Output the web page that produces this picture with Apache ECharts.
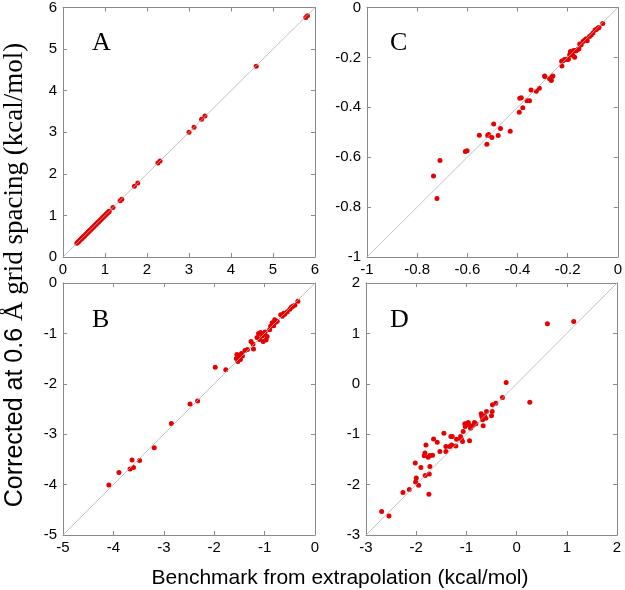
<!DOCTYPE html>
<html>
<head>
<meta charset="utf-8">
<script src="https://cdn.jsdelivr.net/npm/echarts@6/dist/echarts.min.js"></script>
<style>
html,body{margin:0;padding:0;background:#fff;}
#chart{width:625px;height:590px;}
</style>
</head>
<body>
<div id="chart"></div>
<script>
// Panel A (benchmark x, corrected y)
var aX = [0.33,0.35,0.37,0.38,0.40,0.42,0.44,0.45,0.47,0.49,0.50,0.52,0.54,0.56,0.58,0.60,0.62,0.63,0.65,0.67,0.69,0.71,0.73,0.75,0.77,0.79,0.81,0.83,0.85,0.87,0.89,0.91,0.93,0.95,0.97,0.99,1.01,1.03,1.05,1.07,1.09,1.10,1.19,1.36,1.40,1.70,1.78,2.26,2.31,3.00,3.12,3.30,3.38,4.60,5.78,5.82];
var aY = [0.33,0.35,0.37,0.38,0.40,0.42,0.44,0.45,0.47,0.49,0.50,0.52,0.54,0.56,0.58,0.60,0.62,0.63,0.65,0.67,0.69,0.71,0.73,0.75,0.77,0.79,0.81,0.83,0.85,0.87,0.89,0.91,0.93,0.95,0.97,0.99,1.01,1.03,1.05,1.07,1.09,1.10,1.19,1.35,1.39,1.70,1.78,2.26,2.31,3.00,3.12,3.31,3.39,4.59,5.76,5.80];
// Panel B
var bX = [-4.09,-3.89,-3.67,-3.63,-3.60,-3.48,-3.19,-2.85,-2.48,-2.33,-1.98,-1.77,-1.56,-1.55,-1.53,-1.50,-1.48,-1.46,-1.44,-1.39,-1.34,-1.27,-1.23,-1.22,-1.15,-1.12,-1.10,-1.08,-1.05,-1.03,-1.00,-0.99,-0.97,-0.95,-0.90,-0.88,-0.85,-0.82,-0.80,-0.78,-0.75,-0.68,-0.65,-0.62,-0.60,-0.55,-0.50,-0.47,-0.44,-0.40,-0.34];
var bY = [-4.01,-3.76,-3.69,-3.51,-3.66,-3.52,-3.27,-2.79,-2.40,-2.34,-1.67,-1.72,-1.50,-1.42,-1.56,-1.46,-1.52,-1.40,-1.45,-1.34,-1.32,-1.16,-1.21,-1.31,-1.08,-1.00,-1.12,-0.98,-1.05,-1.16,-1.02,-0.97,-1.13,-1.06,-0.93,-0.86,-0.79,-0.85,-0.73,-0.78,-0.76,-0.63,-0.66,-0.60,-0.62,-0.57,-0.52,-0.48,-0.46,-0.44,-0.36];
// Panel C
var cX = [-0.735,-0.709,-0.721,-0.608,-0.601,-0.552,-0.522,-0.519,-0.515,-0.502,-0.495,-0.477,-0.468,-0.429,-0.393,-0.391,-0.385,-0.379,-0.362,-0.352,-0.346,-0.325,-0.313,-0.292,-0.290,-0.272,-0.265,-0.262,-0.259,-0.223,-0.224,-0.219,-0.212,-0.205,-0.199,-0.197,-0.192,-0.189,-0.186,-0.185,-0.179,-0.176,-0.172,-0.168,-0.166,-0.160,-0.155,-0.152,-0.146,-0.139,-0.132,-0.126,-0.122,-0.113,-0.106,-0.099,-0.091,-0.086,-0.079,-0.075,-0.060];
var cY = [-0.675,-0.613,-0.766,-0.577,-0.574,-0.512,-0.548,-0.513,-0.509,-0.521,-0.467,-0.513,-0.485,-0.496,-0.420,-0.364,-0.362,-0.402,-0.374,-0.374,-0.331,-0.336,-0.324,-0.275,-0.278,-0.286,-0.293,-0.277,-0.275,-0.234,-0.215,-0.213,-0.208,-0.207,-0.208,-0.206,-0.189,-0.176,-0.189,-0.185,-0.191,-0.172,-0.199,-0.173,-0.173,-0.168,-0.165,-0.146,-0.149,-0.136,-0.130,-0.125,-0.133,-0.116,-0.110,-0.102,-0.090,-0.088,-0.082,-0.080,-0.064];
// Panel D
var dX = [-2.688,-2.542,-2.264,-2.138,-2.019,-1.999,-2.012,-1.952,-1.906,-1.826,-1.806,-1.840,-1.820,-1.760,-1.727,-1.740,-1.727,-1.747,-1.674,-1.654,-1.581,-1.528,-1.448,-1.408,-1.408,-1.329,-1.309,-1.282,-1.296,-1.210,-1.196,-1.117,-1.098,-1.077,-1.064,-1.031,-1.024,-0.997,-0.964,-0.951,-0.938,-0.918,-0.898,-0.865,-0.839,-0.812,-0.706,-0.692,-0.679,-0.666,-0.639,-0.613,-0.599,-0.500,-0.487,-0.480,-0.414,-0.281,-0.208,0.263,0.614,1.138];
var dY = [-2.536,-2.623,-2.159,-2.099,-1.570,-1.868,-1.947,-2.013,-1.662,-1.371,-1.212,-1.430,-1.821,-1.457,-1.424,-1.788,-1.642,-2.192,-1.417,-1.093,-1.159,-1.344,-0.980,-1.245,-1.344,-1.245,-1.046,-1.046,-1.212,-1.232,-1.099,-1.046,-1.099,-1.146,-0.947,-0.795,-0.848,-0.795,-0.768,-0.815,-1.132,-0.881,-0.848,-0.821,-0.768,-0.795,-0.596,-0.649,-0.715,-0.834,-0.636,-0.682,-0.550,-0.636,-0.550,-0.417,-0.384,-0.272,0.026,-0.364,1.192,1.238];

// Axis ranges [min, max, interval]
var aRange = [0, 6, 1];
var bRange = [-5, 0, 1];
var cRange = [-1, 0, 0.2];
var dRange = [-3, 2, 1];
var panelLetters = ['A', 'B', 'C', 'D'];
var xTitle = 'Benchmark from extrapolation (kcal/mol)';
var yTitleSans = 'Corrected at 0.6 ';
var yTitleSerif = 'Å grid spacing (kcal/mol)';

var panels = [
  {x: aX, y: aY, r: aRange, grid: {left: 63, top: 6, width: 252, height: 251}, lx: 92, ly: 44},
  {x: bX, y: bY, r: bRange, grid: {left: 63, top: 283, width: 252, height: 252}, lx: 92, ly: 321},
  {x: cX, y: cY, r: cRange, grid: {left: 367, top: 6, width: 251, height: 251}, lx: 390, ly: 44},
  {x: dX, y: dY, r: dRange, grid: {left: 366, top: 283, width: 251, height: 252}, lx: 390, ly: 321}
];

var lineCol = '#8a8a8a';
var labelStyle = {color: '#000', fontSize: 15, fontFamily: 'Liberation Sans'};
var grids = [], xAxes = [], yAxes = [], series = [], graphics = [];

panels.forEach(function (p, i) {
  grids.push(p.grid);
  var base = {
    gridIndex: i, type: 'value', min: p.r[0], max: p.r[1], interval: p.r[2],
    splitLine: {show: false},
    axisLine: {show: true, onZero: false, lineStyle: {color: lineCol, width: 1}},
    axisTick: {show: true, inside: true, length: 4, lineStyle: {color: lineCol}}
  };
  xAxes.push(Object.assign({}, base, {position: 'bottom', axisLabel: Object.assign({margin: 5}, labelStyle)}));
  xAxes.push(Object.assign({}, base, {position: 'top', axisLabel: {show: false}}));
  yAxes.push(Object.assign({}, base, {position: 'left', axisLabel: Object.assign({margin: 6}, labelStyle)}));
  yAxes.push(Object.assign({}, base, {position: 'right', axisLabel: {show: false}}));

  series.push({
    type: 'line', xAxisIndex: 2 * i, yAxisIndex: 2 * i, silent: true, symbol: 'none',
    lineStyle: {color: '#b4b4b4', width: 0.8},
    data: [[p.r[0], p.r[0]], [p.r[1], p.r[1]]]
  });
  series.push({
    type: 'scatter', xAxisIndex: 2 * i, yAxisIndex: 2 * i, symbolSize: 5,
    itemStyle: {color: '#e60000', opacity: 1},
    data: p.x.map(function (v, k) { return [v, p.y[k]]; })
  });
  graphics.push({
    type: 'text', left: p.lx, top: p.ly - 14,
    style: {text: panelLetters[i], fontFamily: 'Liberation Serif', fontSize: 26, fill: '#000'}
  });
});

graphics.push({
  type: 'text', x: 340, y: 578,
  style: {text: xTitle, fontFamily: 'Liberation Sans', fontSize: 21, fill: '#000', align: 'center', verticalAlign: 'middle'}
});
graphics.push({
  type: 'text', x: 15, y: 275, rotation: Math.PI / 2,
  style: {
    text: '{s|' + yTitleSans + '}{t|' + yTitleSerif + '}',
    align: 'center', verticalAlign: 'middle', fill: '#000',
    rich: {
      s: {fontFamily: 'Liberation Sans', fontSize: 25, fill: '#000'},
      t: {fontFamily: 'Liberation Serif', fontSize: 27, fill: '#000'}
    }
  }
});

var chart = echarts.init(document.getElementById('chart'), null, {renderer: 'canvas'});
chart.setOption({
  animation: false,
  backgroundColor: '#fff',
  grid: grids, xAxis: xAxes, yAxis: yAxes, series: series, graphic: graphics
});
</script>
</body>
</html>
